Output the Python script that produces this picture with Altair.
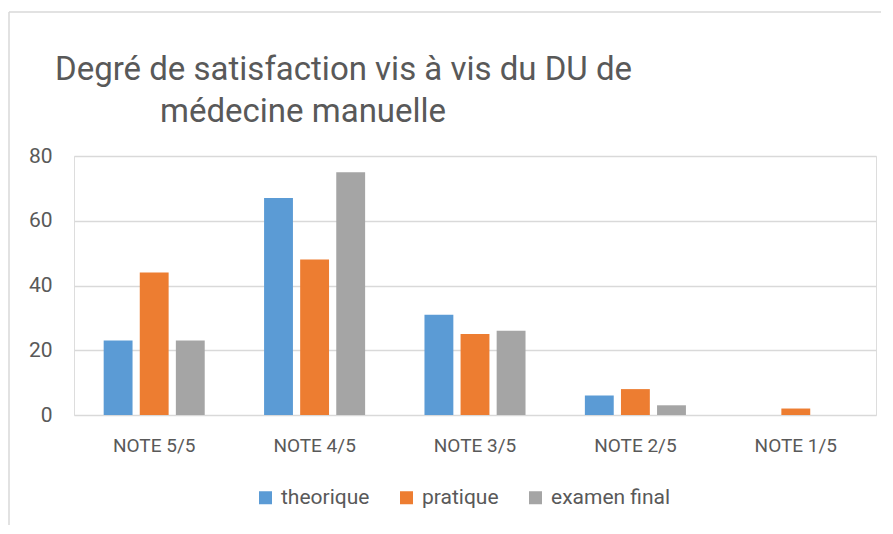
import altair as alt
import pandas as pd

categories = ["NOTE 5/5", "NOTE 4/5", "NOTE 3/5", "NOTE 2/5", "NOTE 1/5"]
series = ["theorique", "pratique", "examen final"]
theorique = [23, 67, 31, 6, 0]
pratique = [44, 48, 25, 8, 2]
examen_final = [23, 75, 26, 3, 0]
colors = ["#5B9BD5", "#ED7D31", "#A5A5A5"]
title_lines = ["Degré de satisfaction vis à vis du DU de", "médecine manuelle"]
y_ticks = [0, 20, 40, 60, 80]

rows = []
for s, vals in zip(series, [theorique, pratique, examen_final]):
    for c, v in zip(categories, vals):
        rows.append({"note": c, "serie": s, "valeur": v})
df = pd.DataFrame(rows)

FONT = "Roboto"
TXT = "#595959"
W, H = 802, 259

bars = alt.Chart(df).mark_bar().encode(
    x=alt.X("note:N", sort=categories,
            scale=alt.Scale(paddingInner=0.37, paddingOuter=0.185),
            axis=alt.Axis(title=None, labelAngle=0, domain=False, ticks=False,
                          labelPadding=21, labelFontSize=19, labelColor=TXT,
                          labelFont=FONT)),
    xOffset=alt.XOffset("serie:N", sort=series, scale=alt.Scale(paddingInner=0.2)),
    y=alt.Y("valeur:Q", scale=alt.Scale(domain=[0, 80]),
            axis=alt.Axis(title=None, values=y_ticks, domain=False, ticks=False,
                          gridColor="#d9d9d9", gridWidth=1.3, labelPadding=22,
                          labelFontSize=21, labelColor=TXT, labelFont=FONT)),
    color=alt.Color("serie:N", sort=series,
                    scale=alt.Scale(domain=series, range=colors),
                    legend=alt.Legend(title=None, orient="none", direction="horizontal",
                                      legendX=181, legendY=331, symbolType="square",
                                      symbolSize=169, symbolStrokeWidth=0,
                                      labelFontSize=21, labelFont=FONT, labelColor=TXT,
                                      columnPadding=26, labelOffset=5)),
)

t1 = alt.Chart(pd.DataFrame({"t": [title_lines[0]]})).mark_text(
    align="left", baseline="alphabetic", fontSize=33, font=FONT, color=TXT
).encode(x=alt.value(-19), y=alt.value(-76), text="t:N")

t2 = alt.Chart(pd.DataFrame({"t": [title_lines[1]]})).mark_text(
    align="left", baseline="alphabetic", fontSize=33, font=FONT, color=TXT
).encode(x=alt.value(86), y=alt.value(-34), text="t:N")

frame_df = pd.DataFrame({"k": [0]})
frame_left = alt.Chart(frame_df).mark_rule(color="#d9d9d9", strokeWidth=1.5).encode(
    x=alt.value(-65), y=alt.value(-144), y2=alt.value(400))
frame_top = alt.Chart(frame_df).mark_rule(color="#d9d9d9", strokeWidth=1.5).encode(
    x=alt.value(-65), x2=alt.value(830), y=alt.value(-144))

chart = alt.layer(frame_left, frame_top, bars, t1, t2).properties(
    width=W, height=H,
    autosize=alt.AutoSizeParams(type="none"),
    padding={"left": 66, "top": 148, "right": 5, "bottom": 110},
).configure_view(stroke=None).configure(background="white")

chart.save("out.html", embed_options={"renderer": "svg", "actions": False})
